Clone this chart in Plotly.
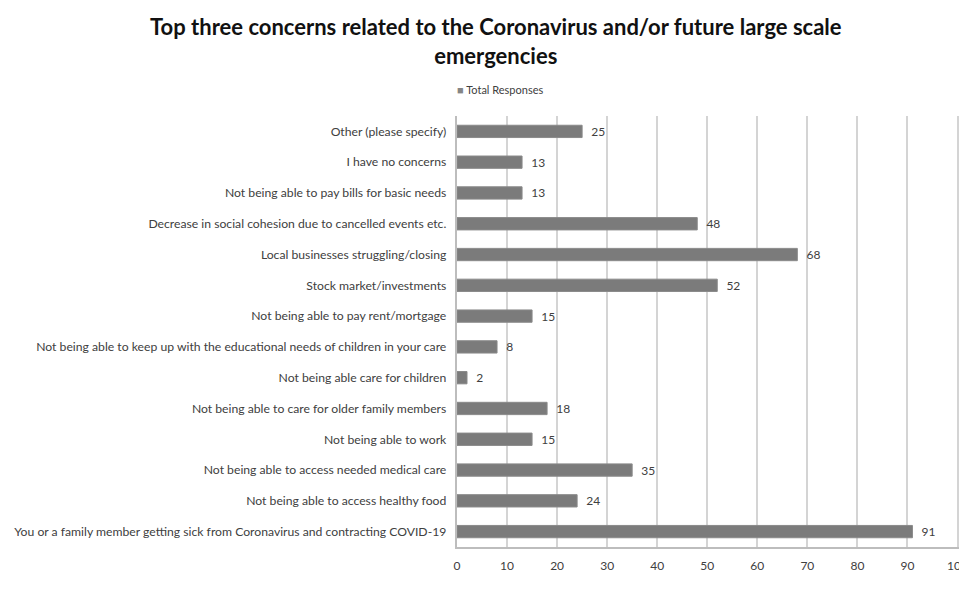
import plotly.graph_objects as go

categories = [
    "Other (please specify)",
    "I have no concerns",
    "Not being able to pay bills for basic needs",
    "Decrease in social cohesion due to cancelled events etc.",
    "Local businesses struggling/closing",
    "Stock market/investments",
    "Not being able to pay rent/mortgage",
    "Not being able to keep up with the educational needs of children in your care",
    "Not being able care for children",
    "Not being able to care for older family members",
    "Not being able to work",
    "Not being able to access needed medical care",
    "Not being able to access healthy food",
    "You or a family member getting sick from Coronavirus and contracting COVID-19",
]
values = [25, 13, 13, 48, 68, 52, 15, 8, 2, 18, 15, 35, 24, 91]
x_ticks = [0, 10, 20, 30, 40, 50, 60, 70, 80, 90, 100]
series_name = "Total Responses"

font_family = "Lato, 'Open Sans', sans-serif"
text_color = "#404040"

fig = go.Figure()
fig.add_trace(go.Bar(
    y=categories,
    x=values,
    orientation="h",
    name=series_name,
    marker=dict(color="#7b7b7b", line=dict(color="#8a8a8a", width=1)),
    text=values,
    texttemplate="  %{text}",
    textposition="outside",
    constraintext="none",
    textfont=dict(size=12, color=text_color, family=font_family),
    cliponaxis=False,
    showlegend=False,
))

fig.add_annotation(
    text="<span style='color:#858585'>■</span> " + series_name,
    xref="paper", yref="paper",
    x=(500 - 457) / (959 - 457), y=1 + (116 - 89) / (595 - 116 - 48),
    xanchor="center", yanchor="middle",
    showarrow=False,
    font=dict(size=11, color=text_color, family=font_family),
)

fig.update_layout(
    width=959,
    height=595,
    paper_bgcolor="white",
    plot_bgcolor="white",
    margin=dict(l=457, r=0, t=116, b=48),
    bargap=0.6,
    font=dict(family=font_family, size=12, color=text_color),
    title=dict(
        text="<b>Top three concerns related to the Coronavirus and/or future large scale<br>emergencies</b>",
        x=0.517, xanchor="center", xref="container",
        y=1 - 35 / 595, yanchor="top", yref="container",
        font=dict(size=22, color="#111111", family=font_family),
    ),
    xaxis=dict(
        range=[0, 100.3],
        tickvals=x_ticks,
        showgrid=True,
        gridcolor="#d4d4d4",
        gridwidth=2,
        zeroline=False,
        showline=True,
        linecolor="#bdbdbd",
        linewidth=2,
        ticks="outside",
        ticklen=7,
        tickcolor="rgba(255,255,255,0)",
        automargin=False,
        ticklabeloverflow="allow",
        tickfont=dict(size=12, color=text_color),
    ),
    yaxis=dict(
        autorange="reversed",
        showline=True,
        linecolor="#bdbdbd",
        linewidth=2,
        ticks="",
        ticksuffix="  ",
        tickfont=dict(size=12.2, color=text_color),
    ),
)

fig.write_html("out.html")
